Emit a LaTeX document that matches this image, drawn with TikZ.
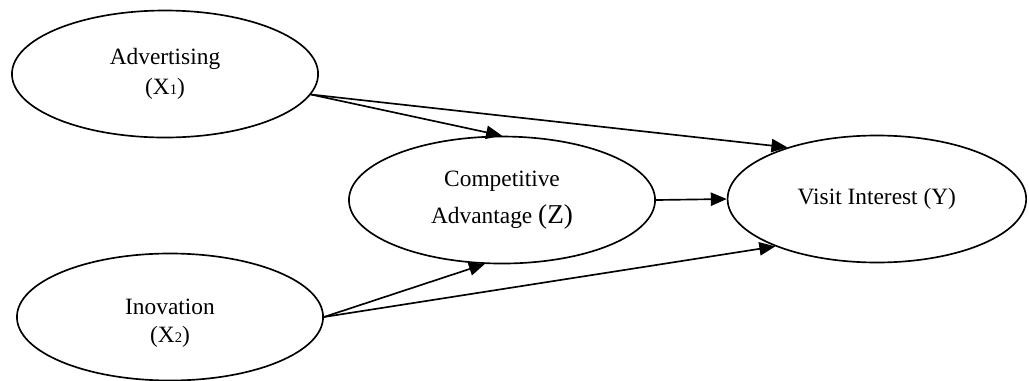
\documentclass[tikz,border=0pt]{standalone}
\usepackage{fontspec}
\setmainfont{Liberation Serif}
\usepackage{tikz}
\usetikzlibrary{arrows.meta,shapes.geometric,positioning}
\tikzset{>={Triangle[length=12pt,width=10pt]}}
\tikzset{var/.style={draw,ellipse,line width=1.25pt,inner sep=0pt,minimum width=8.1cm,minimum height=3.36cm,align=center,font=\fontsize{17.6}{22.5}\selectfont}}
\tikzset{link/.style={->,line width=1.25pt}}
\newcommand{\subidx}[1]{{\fontsize{11}{11}\selectfont #1}}

\begin{document}
\begin{tikzpicture}
					\useasboundingbox (0,0) rectangle (27.225,10.054);
					%Variables
					\node[var] (X1) at (4.366,8.096) {Advertising\\(X\subidx{1})};
					\node[var,label={[yshift=-0.17cm,align=center,font=\fontsize{17.6}{21}\selectfont]center:Inovation\\(X\subidx{2})}] (X2) at (4.498,1.667) {};
					\node[var,font=\fontsize{17.6}{27.75}\selectfont] (Z) at (13.282,4.762) {Competitive\\Advantage {\fontsize{20.5}{20.5}\selectfont(Z)}};
					\node[var,minimum width=7.9cm] (Y) at (23.2,4.789) {Visit Interest (Y)};
					
					%Arrows
					\draw[link] (X1.-8)--(Z.north);
					\draw[link] (X1.-8)--(Y.150);
					\draw[link] (Z.east)--(Y.west);
					\draw[link] (X2.east)--(Z.255);
					\draw[link] (X2.east)--(Y.205);
\end{tikzpicture}
\end{document}
